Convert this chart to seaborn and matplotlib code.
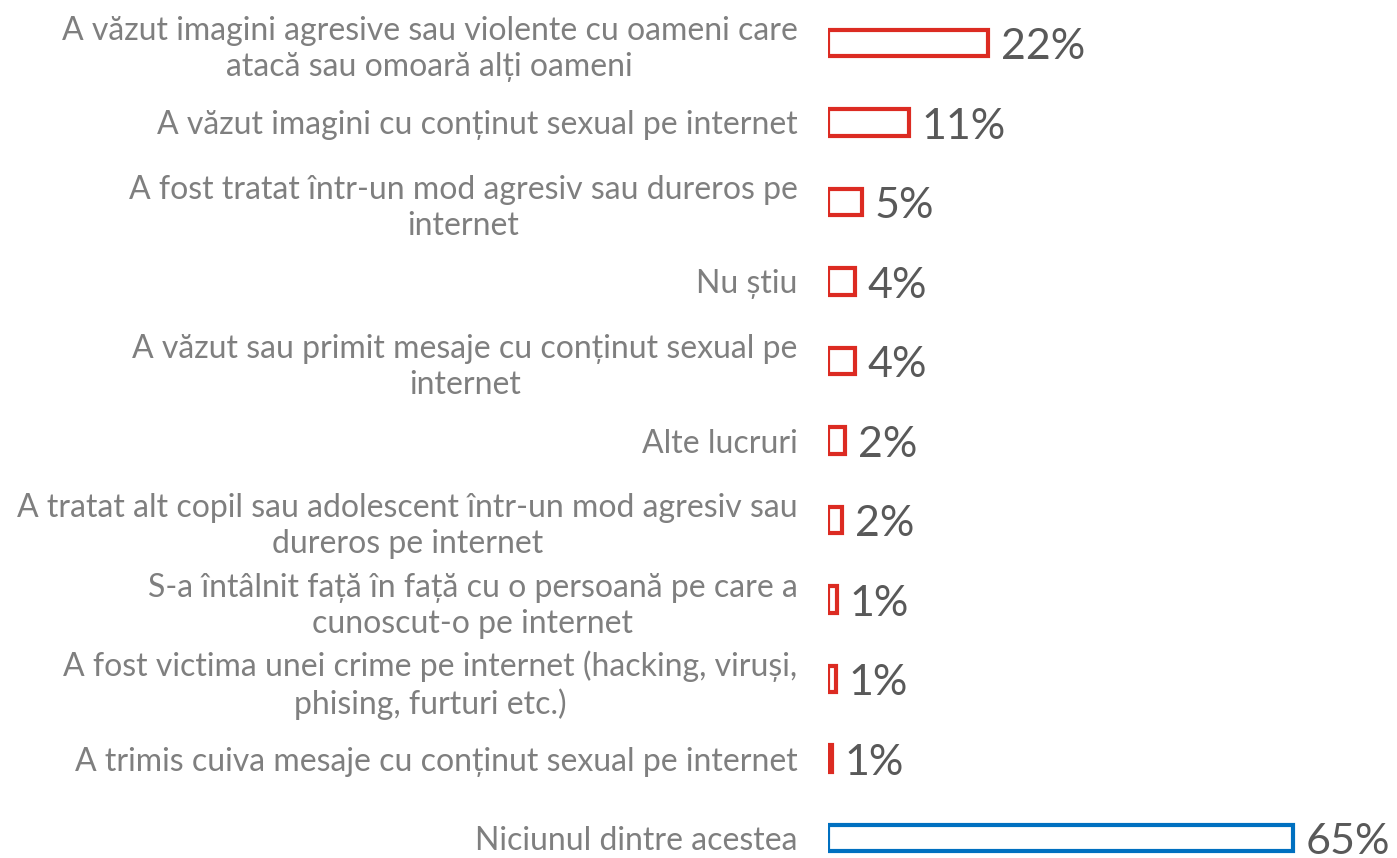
import pandas as pd
import matplotlib.pyplot as plt
import seaborn as sns

# categories (wrapped as in the reference) and shares in percent
categories = [
    "A văzut imagini agresive sau violente cu oameni care\natacă sau omoară alți oameni",
    "A văzut imagini cu conținut sexual pe internet",
    "A fost tratat într-un mod agresiv sau dureros pe\ninternet",
    "Nu știu",
    "A văzut sau primit mesaje cu conținut sexual pe\ninternet",
    "Alte lucruri",
    "A tratat alt copil sau adolescent într-un mod agresiv sau\ndureros pe internet",
    "S-a întâlnit față în față cu o persoană pe care a\ncunoscut-o pe internet",
    "A fost victima unei crime pe internet (hacking, viruși,\nphising, furturi etc.)",
    "A trimis cuiva mesaje cu conținut sexual pe internet",
    "Niciunul dintre acestea",
]
values = [22.4, 11.3, 4.8, 3.8, 3.8, 2.4, 2.0, 1.25, 1.1, 0.6, 65.0]
bar_colors = ["#DC2B22"] * 10 + ["#0070C0"]

df = pd.DataFrame({"cat": categories, "val": values})

sns.set_style("white")
plt.rcParams["font.family"] = ["Lato", "DejaVu Sans"]

fig = plt.figure(figsize=(13.97, 8.58), dpi=100)
ax = fig.add_axes([828 / 1397, 0, 1 - 828 / 1397, 1])

sns.barplot(data=df, y="cat", x="val", hue="cat", palette=bar_colors,
            fill=False, linewidth=3.0, width=0.33, legend=False, ax=ax,
            orient="h")

# value labels
for i, v in enumerate(values):
    ax.annotate(f"{v:.0f}%", xy=(v, i), xytext=(9, -3), textcoords="offset points",
                va="center", ha="left", fontsize=31, color="#595959")

ax.set_xlim(0, 79.6)
ax.set_ylim(10.25, -0.54)
ax.set_xlabel("")
ax.set_ylabel("")
ax.set_xticks([])
ax.tick_params(axis="y", length=0, pad=22)
for lab in ax.get_yticklabels():
    lab.set_fontsize(23)
    lab.set_color("#7F7F7F")
    lab.set_multialignment("center")
    lab.set_linespacing(1.25)
sns.despine(ax=ax, left=True, bottom=True)

fig.savefig("out.png", dpi=100)
